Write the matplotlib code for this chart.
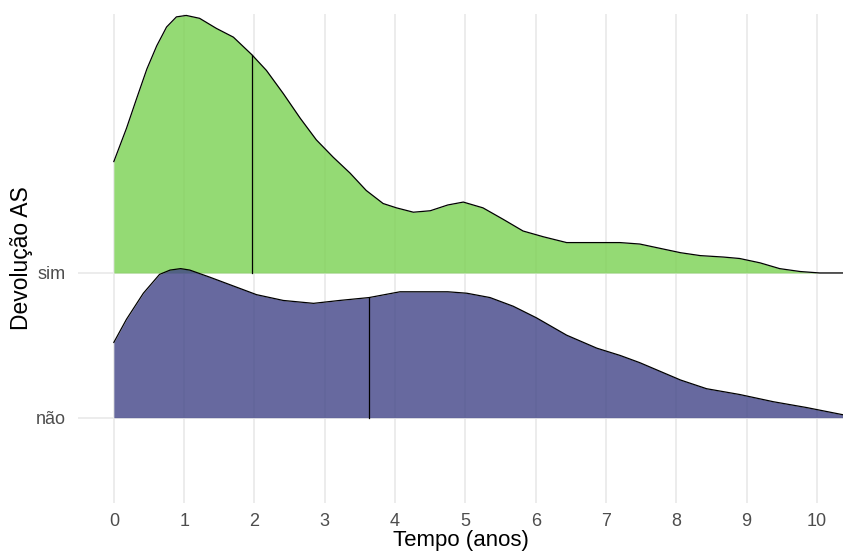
import numpy as np
import matplotlib
matplotlib.use("Agg")
import matplotlib.pyplot as plt

plt.rcParams["font.family"] = ["Liberation Sans", "DejaVu Sans"]

# densidade (altura em unidades do espaçamento entre grupos)
sim_x = [0.00, 0.18, 0.32, 0.47, 0.61, 0.75, 0.89, 1.03, 1.22, 1.46, 1.70,
         1.96, 2.17, 2.41, 2.65, 2.88, 3.12, 3.36, 3.59, 3.83, 4.02, 4.26,
         4.50, 4.75, 4.97, 5.25, 5.54, 5.82, 6.11, 6.44, 6.70, 6.96, 7.20,
         7.48, 7.77, 8.06, 8.34, 8.67, 8.90, 9.19, 9.47, 9.76, 10.04, 10.37]
sim_h = [0.77, 1.00, 1.20, 1.41, 1.57, 1.70, 1.77, 1.78, 1.76, 1.69, 1.63,
         1.51, 1.40, 1.24, 1.07, 0.92, 0.80, 0.69, 0.57, 0.48, 0.45, 0.42,
         0.43, 0.47, 0.49, 0.45, 0.37, 0.29, 0.25, 0.21, 0.21, 0.21, 0.21,
         0.20, 0.17, 0.14, 0.12, 0.11, 0.10, 0.07, 0.03, 0.01, 0.00, 0.00]

nao_x = [0.00, 0.18, 0.42, 0.65, 0.80, 0.95, 1.08, 1.37, 1.70, 2.03, 2.41,
         2.84, 3.21, 3.63, 4.07, 4.40, 4.75, 5.02, 5.35, 5.68, 6.01, 6.44,
         6.87, 7.20, 7.48, 7.77, 8.06, 8.43, 8.90, 9.38, 9.85, 10.37]
nao_h = [0.52, 0.68, 0.86, 0.99, 1.02, 1.03, 1.02, 0.97, 0.91, 0.85, 0.81,
         0.79, 0.81, 0.83, 0.87, 0.87, 0.87, 0.86, 0.83, 0.77, 0.69, 0.57,
         0.48, 0.43, 0.38, 0.32, 0.26, 0.20, 0.16, 0.11, 0.07, 0.02]

groups = ["não", "sim"]
medians = {"sim": 1.96, "não": 3.63}
colors = {"sim": "#7AD151", "não": "#414487"}
curves = {"sim": (sim_x, sim_h), "não": (nao_x, nao_h)}
x_ticks = list(range(0, 11))

fig = plt.figure(figsize=(8.43, 5.53), dpi=100)
ax = fig.add_axes([0.0925, 0.0904, 0.9075, 0.8843])

for t in x_ticks:
    ax.axvline(t, color="#EBEBEB", lw=1.3, zorder=0)
for i in range(len(groups)):
    ax.axhline(i + 1, color="#EBEBEB", lw=1.3, zorder=0)

# desenha de cima para baixo, para que o grupo de baixo fique por cima
for i in reversed(range(len(groups))):
    g = groups[i]
    base = i + 1
    xs, hs = np.array(curves[g][0]), np.array(curves[g][1])
    z = 2 + (len(groups) - i)
    ax.fill_between(xs, base, base + hs, color=colors[g], alpha=0.8,
                    lw=0, zorder=z)
    ax.plot(xs, base + hs, color="black", lw=0.9, zorder=z + 0.1,
            solid_joinstyle="round")
    m = medians[g]
    ax.plot([m, m], [base, base + np.interp(m, xs, hs)], color="black",
            lw=0.9, zorder=z + 0.2)

ax.set_xlim(-0.51, 10.37)
ax.set_ylim(0.41, 3.79)
ax.set_xticks(x_ticks)
ax.set_yticks([1, 2])
ax.set_yticklabels(groups)
ax.tick_params(length=0, labelsize=13, labelcolor="#4D4D4D")
ax.tick_params(axis="x", pad=7)
ax.tick_params(axis="y", pad=9)
for s in ax.spines.values():
    s.set_visible(False)

ax.set_xlabel("Tempo (anos)", fontsize=16, labelpad=0)
ax.set_ylabel("Devolução AS", fontsize=16.5, labelpad=2)

fig.savefig("out.png", dpi=100)
